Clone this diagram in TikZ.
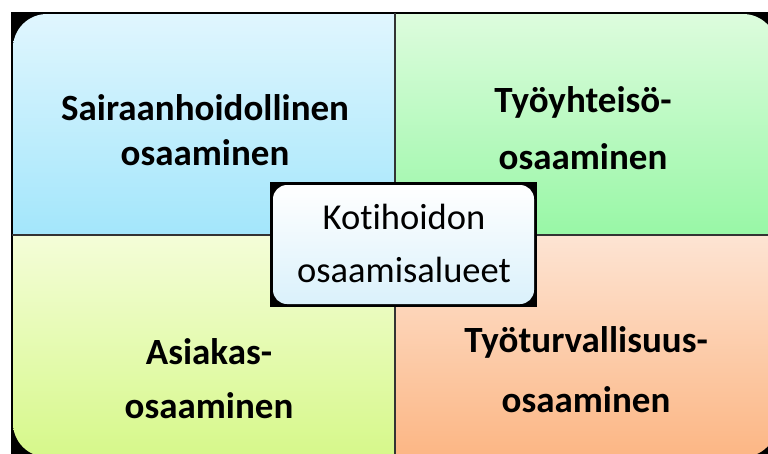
\documentclass[tikz,border=0pt]{standalone}
\usepackage{fontspec}
\setmainfont{Carlito}[Ligatures=NoCommon]
\definecolor{tltop}{HTML}{E0F6FE}
\definecolor{tlbot}{HTML}{A3E6FB}
\definecolor{trtop}{HTML}{DDFCDD}
\definecolor{trbot}{HTML}{98F7A6}
\definecolor{bltop}{HTML}{F4FDD8}
\definecolor{blbot}{HTML}{D6F88A}
\definecolor{brtop}{HTML}{FDE4D3}
\definecolor{brbot}{HTML}{FCB684}
\definecolor{ctop}{HTML}{FFFFFF}
\definecolor{cbot}{HTML}{DAF1FB}
\definecolor{divider}{HTML}{333333}
\tikzset{
  quadlabel/.style={align=center, font=\fontsize{37}{#1}\selectfont\bfseries, inner sep=0pt},
  centerlabel/.style={align=center, font=\fontsize{36.5}{53}\selectfont, inner sep=0pt},
  divline/.style={draw=divider, line width=2pt}
}
\begin{document}
\begin{tikzpicture}[x=1pt,y=-1pt]
\useasboundingbox (0,0) rectangle (768,453);
\clip (0,0) rectangle (768,453);
\fill[white] (0,0) rectangle (768,453);
% black frame behind
\fill[black] (11,12) rectangle (779,459);
\begin{scope}
  \clip[rounded corners=34pt] (13,14) rectangle (777,457);
  \shade[top color=tltop, bottom color=tlbot] (13,14) rectangle (394.5,235);
  \shade[top color=trtop, bottom color=trbot] (394.5,14) rectangle (777,235);
  \shade[top color=bltop, bottom color=blbot] (13,235) rectangle (394.5,457);
  \shade[top color=brtop, bottom color=brbot] (394.5,235) rectangle (777,457);
\end{scope}
\coordinate (vtop) at (394.5,13);
\coordinate (vbot) at (394.5,457);
\coordinate (hleft) at (12,235);
\coordinate (hright) at (777,235);
\draw[divline] (vtop) -- (vbot);
\draw[divline] (hleft) -- (hright);
% centre box
\fill[black] (270,182) rectangle (537,307);
\shade[top color=ctop, bottom color=cbot, rounded corners=14pt] (273,185) rectangle (534,304);
\node[quadlabel=45] (tl) at (205,130) {Sairaanhoidollinen\\osaaminen};
\node[quadlabel=57] (tr) at (583,128) {Työyhteisö-\\osaaminen};
\node[quadlabel=54] (bl) at (209,379) {Asiakas-\\osaaminen};
\node[quadlabel=60] (br) at (586,370) {Työturvallisuus-\\osaaminen};
\node[centerlabel] (ctr) at (404,243) {Kotihoidon\\osaamisalueet};
\end{tikzpicture}
\end{document}
